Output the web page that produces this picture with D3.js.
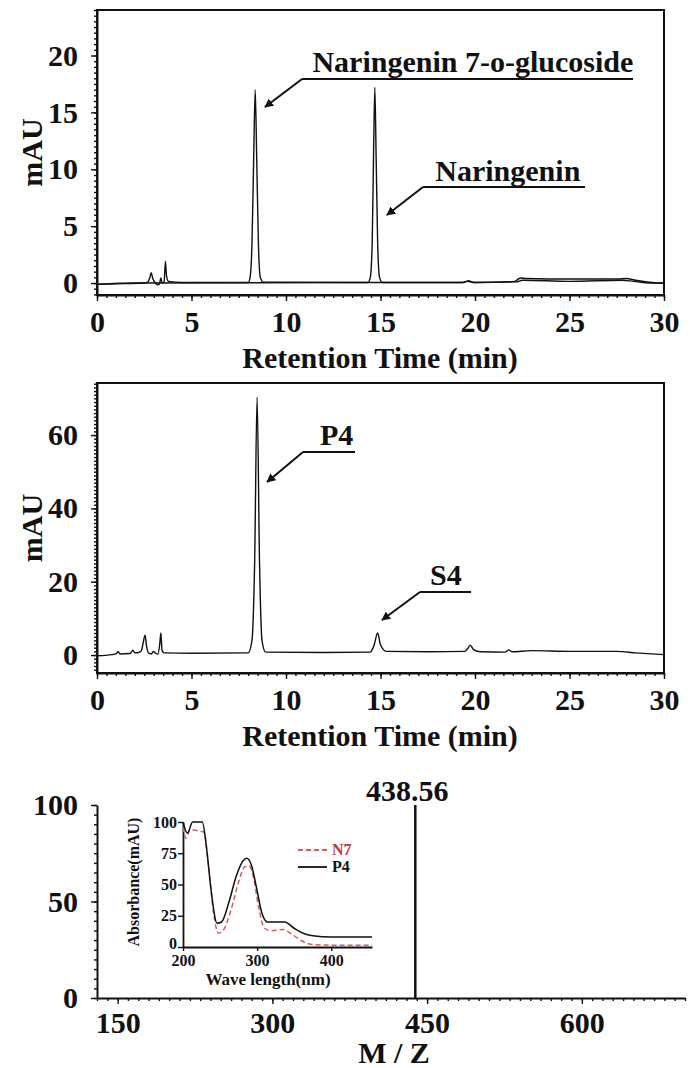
<!DOCTYPE html>
<html>
<head>
<meta charset="utf-8">
<script src="https://cdn.jsdelivr.net/npm/d3@7"></script>
<style>
  body { margin: 0; background: #fff; }
  svg { display: block; }
  text { font-family: "Liberation Serif", "Times New Roman", serif; font-weight: bold; fill: #111; }
</style>
</head>
<body>
<svg id="chart" width="690" height="1068"></svg>
<script>
// ---- data ----
const rtTicks = [0, 5, 10, 15, 20, 25, 30];

// panel A: standards overlay (retention time min, mAU)
const chromN7G = [[0,-0.12],[1.5,-0.05],[2.5,0],[2.7,0.1],[2.8,0.5],[2.87,0.9],[2.95,0.4],[3.05,0.1],[3.2,-0.15],[3.3,-0.1],
  [3.38,0.45],[3.45,0],[3.55,0.1],[3.62,1.9],[3.68,0.6],[3.78,0.15],[4.5,0.05],[8.0,0.05],[8.1,0.5],[8.2,3.5],[8.29,11],
  [8.37,17],[8.45,11],[8.54,3.5],[8.64,0.5],[8.8,0.08],[14,0.05],[19.3,0.05],[19.6,0.15],[19.9,0.05],[22.2,0.1],[22.5,0.25],
  [25,0.15],[27.8,0.25],[28.4,0.15],[29.3,0],[30,0]];
const chromNar = [[0,-0.1],[2,0],[14.33,0.05],[14.46,0.5],[14.56,3.5],[14.63,11],[14.7,17.2],[14.77,11],[14.85,3.5],[14.95,0.5],
  [15.1,0.05],[19.4,0.05],[19.65,0.2],[19.95,0.05],[22.1,0.15],[22.4,0.45],[22.7,0.4],[25,0.35],[27.6,0.35],[28,0.4],
  [28.5,0.25],[29.4,0.05],[30,0]];
const yTicksA = [0, 5, 10, 15, 20];

// panel B: sample
const chromP4 = [[0,-0.2],[0.8,0.1],[1.0,0.3],[1.12,0.9],[1.22,0.3],[1.75,0.4],[1.9,1.3],[2.0,0.6],[2.2,0.7],[2.35,1.2],
  [2.45,3.5],[2.54,5.4],[2.63,2.2],[2.73,0.5],[2.88,0.3],[2.98,1.0],[3.08,0.6],[3.22,0.2],[3.32,3],[3.38,6],[3.44,1.2],
  [3.56,0.6],[5,0.5],[8.0,0.6],[8.2,4],[8.34,25],[8.47,70.3],[8.6,25],[8.73,4],[8.92,0.8],[12,0.7],[14.45,0.8],[14.65,2.5],
  [14.85,6],[15.0,2.8],[15.3,1.0],[17.5,0.9],[19.45,1.0],[19.62,1.8],[19.75,2.7],[19.92,1.5],[20.3,0.9],[21.6,0.8],
  [21.78,1.4],[21.95,0.9],[23,1.2],[25,1.0],[27.5,1.0],[28.5,0.6],[30,0.1]];
const yTicksB = [0, 20, 40, 60];

// panel C: mass spectrum
const msMz = [438.56];
const msIntensity = [100];
const mzTicks = [150, 300, 450, 600];
const relTicks = [0, 50, 100];

// inset: UV spectra (nm, mAU)
const uvN7 = [[200,96],[204,87],[210,94],[220,93],[228,92],[235,62],[241,28],[248,11],[255,14],[265,30],[275,52],[283,64],
  [289,65],[295,56],[302,32],[310,15],[320,13],[335,14],[345,11],[360,5],[375,2],[400,1.5],[455,1.5]];
const uvP4 = [[200,100],[206,91],[213,100],[226,100],[232,78],[238,45],[246,19],[252,20],[262,36],[272,57],[281,69],[286,71],
  [292,66],[299,48],[306,28],[314,20],[322,20],[337,20],[350,15],[362,11],[375,9],[400,8],[455,8]];
const uvXTicks = [200, 300, 400];
const uvYTicks = [0, 25, 50, 75, 100];
const uvSeries = ["N7", "P4"];

// ---- drawing ----
const svg = d3.select("#chart");
const FS = 30;

function styleAxis(sel, fs) {
  sel.select(".domain").attr("stroke", "#111").attr("stroke-width", 2);
  sel.selectAll(".tick line").attr("stroke", "#111").attr("stroke-width", 1.4);
  sel.selectAll(".tick text").attr("font-size", fs).attr("fill", "#111")
    .attr("font-family", "Liberation Serif, serif").attr("font-weight", "bold");
}

function minorTicks(lo, hi, step) {
  const out = [];
  for (let v = lo; v <= hi + 1e-9; v += step) out.push(+v.toFixed(4));
  return out;
}

function drawChrom(cfg) {
  const g = svg.append("g");
  const x = d3.scaleLinear().domain([0, 30]).range([97, 664]);
  const y = d3.scaleLinear().domain(cfg.yDomain).range([cfg.bottom, cfg.top]);

  // minor ticks
  g.append("g").attr("transform", `translate(0,${cfg.bottom})`)
    .call(d3.axisBottom(x).tickValues(minorTicks(0, 30, 0.5)).tickSize(3).tickFormat("").tickSizeOuter(0))
    .call(s => { styleAxis(s, FS); s.select(".domain").remove(); });
  g.append("g").attr("transform", "translate(97,0)")
    .call(d3.axisLeft(y).tickValues(minorTicks(Math.ceil(cfg.yDomain[0]), cfg.yDomain[1], cfg.yMinor)).tickSize(3).tickFormat("").tickSizeOuter(0))
    .call(s => { styleAxis(s, FS); s.select(".domain").remove(); });

  // major ticks
  g.append("g").attr("transform", `translate(0,${cfg.bottom})`)
    .call(d3.axisBottom(x).tickValues(rtTicks).tickSize(6).tickPadding(10).tickSizeOuter(0))
    .call(s => styleAxis(s, FS));
  g.append("g").attr("transform", "translate(97,0)")
    .call(d3.axisLeft(y).tickValues(cfg.yTicks).tickSize(6).tickPadding(13).tickSizeOuter(0))
    .call(s => styleAxis(s, FS));

  // frame
  g.append("rect").attr("x", 97).attr("y", cfg.top).attr("width", 664 - 97).attr("height", cfg.bottom - cfg.top)
    .attr("fill", "none").attr("stroke", "#111").attr("stroke-width", 2);

  const line = d3.line().x(d => x(d[0])).y(d => y(d[1])).curve(d3.curveMonotoneX);
  cfg.traces.forEach(t => {
    g.append("path").datum(t).attr("d", line)
      .attr("fill", "none").attr("stroke", "#111").attr("stroke-width", 1.4);
  });

  // axis titles
  g.append("text").attr("x", 380).attr("y", cfg.bottom + 73).attr("text-anchor", "middle")
    .attr("font-size", FS).text("Retention Time (min)");
  const my = (cfg.top + cfg.bottom) / 2;
  g.append("text").attr("transform", `translate(42,${my}) rotate(-90)`).attr("text-anchor", "middle")
    .attr("font-size", FS).text("mAU");

  // annotations
  cfg.notes.forEach(n => {
    g.append("text").attr("x", x(n.tx)).attr("y", y(n.ty)).attr("font-size", FS).text(n.text);
    g.append("line").attr("x1", x(n.l1)).attr("x2", x(n.l2)).attr("y1", y(n.ly)).attr("y2", y(n.ly))
      .attr("stroke", "#111").attr("stroke-width", 2);
    g.append("line").attr("x1", x(n.l1)).attr("y1", y(n.ly)).attr("x2", x(n.ax)).attr("y2", y(n.ay))
      .attr("stroke", "#111").attr("stroke-width", 2).attr("marker-end", "url(#arrow)");
  });
}

svg.append("defs").append("marker").attr("id", "arrow")
  .attr("viewBox", "0 0 10 10").attr("refX", 9).attr("refY", 5)
  .attr("markerWidth", 4.5).attr("markerHeight", 4.5).attr("orient", "auto")
  .append("path").attr("d", "M0,0 L10,5 L0,10 z").attr("fill", "#111");

drawChrom({
  top: 10, bottom: 295, yDomain: [-1.05, 24], yTicks: yTicksA, yMinor: 0.5,
  traces: [chromN7G, chromNar],
  notes: [
    { text: "Naringenin 7-o-glucoside", tx: 11.4, ty: 18.55, l1: 10.85, l2: 28.36, ly: 17.94, ax: 8.89, ay: 15.47 },
    { text: "Naringenin", tx: 17.9, ty: 8.97, l1: 17.25, l2: 25.82, ly: 8.44, ax: 15.34, ay: 5.98 }
  ]
});

drawChrom({
  top: 383, bottom: 673, yDomain: [-4.9, 74.2], yTicks: yTicksB, yMinor: 1,
  traces: [chromP4],
  notes: [
    { text: "P4", tx: 11.8, ty: 57.3, l1: 10.9, l2: 13.65, ly: 55.4, ax: 9.0, ay: 47.2 },
    { text: "S4", tx: 17.62, ty: 19.1, l1: 17.09, l2: 19.79, ly: 17.2, ax: 15.08, ay: 9.56 }
  ]
});

// ---- mass spectrum ----
(function drawMS() {
  const g = svg.append("g");
  const x = d3.scaleLinear().domain([130, 700]).range([97, 685]);
  const y = d3.scaleLinear().domain([0, 100]).range([998, 805]);

  g.append("g").attr("transform", "translate(0,998)")
    .call(d3.axisBottom(x).tickValues(minorTicks(130, 700, 10)).tickSize(3).tickFormat("").tickSizeOuter(0))
    .call(s => { styleAxis(s, FS); s.select(".domain").remove(); });
  g.append("g").attr("transform", "translate(97,0)")
    .call(d3.axisLeft(y).tickValues(minorTicks(0, 100, 5)).tickSize(3).tickFormat("").tickSizeOuter(0))
    .call(s => { styleAxis(s, FS); s.select(".domain").remove(); });
  g.append("g").attr("transform", "translate(0,998)")
    .call(d3.axisBottom(x).tickValues(mzTicks).tickSize(6).tickPadding(8).tickSizeOuter(0))
    .call(s => styleAxis(s, FS));
  g.append("g").attr("transform", "translate(97,0)")
    .call(d3.axisLeft(y).tickValues(relTicks).tickSize(6).tickPadding(13).tickSizeOuter(0))
    .call(s => styleAxis(s, FS));

  msMz.forEach((mz, i) => {
    g.append("line").attr("x1", x(mz)).attr("x2", x(mz)).attr("y1", y(0)).attr("y2", y(msIntensity[i]))
      .attr("stroke", "#111").attr("stroke-width", 2.5);
    g.append("text").attr("x", x(mz) - 8).attr("y", y(msIntensity[i]) - 4).attr("text-anchor", "middle")
      .attr("font-size", FS).text(mz.toFixed(2));
  });

  g.append("text").attr("x", 394).attr("y", 1063).attr("text-anchor", "middle")
    .attr("font-size", FS).text("M / Z");

  // inset UV spectra
  const ig = g.append("g");
  const ux = d3.scaleLinear().domain([200, 455]).range([183, 372]);
  const uy = d3.scaleLinear().domain([0, 100]).range([947, 822]);
  ig.append("g").attr("class", "ux").attr("transform", "translate(0,947)")
    .call(d3.axisBottom(ux).tickValues(uvXTicks).tickSize(4).tickPadding(4).tickSizeOuter(0))
    .call(s => styleAxis(s, 16));
  ig.append("g").attr("class", "uy").attr("transform", "translate(183,0)")
    .call(d3.axisLeft(uy).tickValues(uvYTicks).tickSize(5).tickPadding(1).tickSizeOuter(0))
    .call(s => styleAxis(s, 16));
  ig.selectAll(".domain").attr("stroke-width", 1.8);
  ig.select(".uy").selectAll(".tick text").filter(d => d === 0).attr("dy", "0.1em");

  const uline = d3.line().x(d => ux(d[0])).y(d => uy(d[1])).curve(d3.curveMonotoneX);
  ig.append("path").datum(uvN7).attr("d", uline).attr("fill", "none")
    .attr("stroke", "#d06060").attr("stroke-width", 1.5).attr("stroke-dasharray", "5,3");
  ig.append("path").datum(uvP4).attr("d", uline).attr("fill", "none")
    .attr("stroke", "#111").attr("stroke-width", 1.5);

  ig.append("text").attr("x", 268).attr("y", 985).attr("text-anchor", "middle")
    .attr("font-size", 17).text("Wave length(nm)");
  ig.append("text").attr("transform", "translate(139,882) rotate(-90)").attr("text-anchor", "middle")
    .attr("font-size", 16).text("Absorbance(mAU)");

  const legend = ig.selectAll(".leg").data(uvSeries).enter().append("g")
    .attr("transform", (d, i) => `translate(298,${850 + i * 17})`);
  legend.append("line").attr("x1", 0).attr("x2", 29)
    .attr("stroke", (d, i) => i === 0 ? "#d06060" : "#111").attr("stroke-width", 1.8)
    .attr("stroke-dasharray", (d, i) => i === 0 ? "5,3" : null);
  legend.append("text").attr("x", 34).attr("y", 5).attr("font-size", 16)
    .style("fill", (d, i) => i === 0 ? "#b83a3a" : "#111").text(d => d);
})();
</script>
</body>
</html>
